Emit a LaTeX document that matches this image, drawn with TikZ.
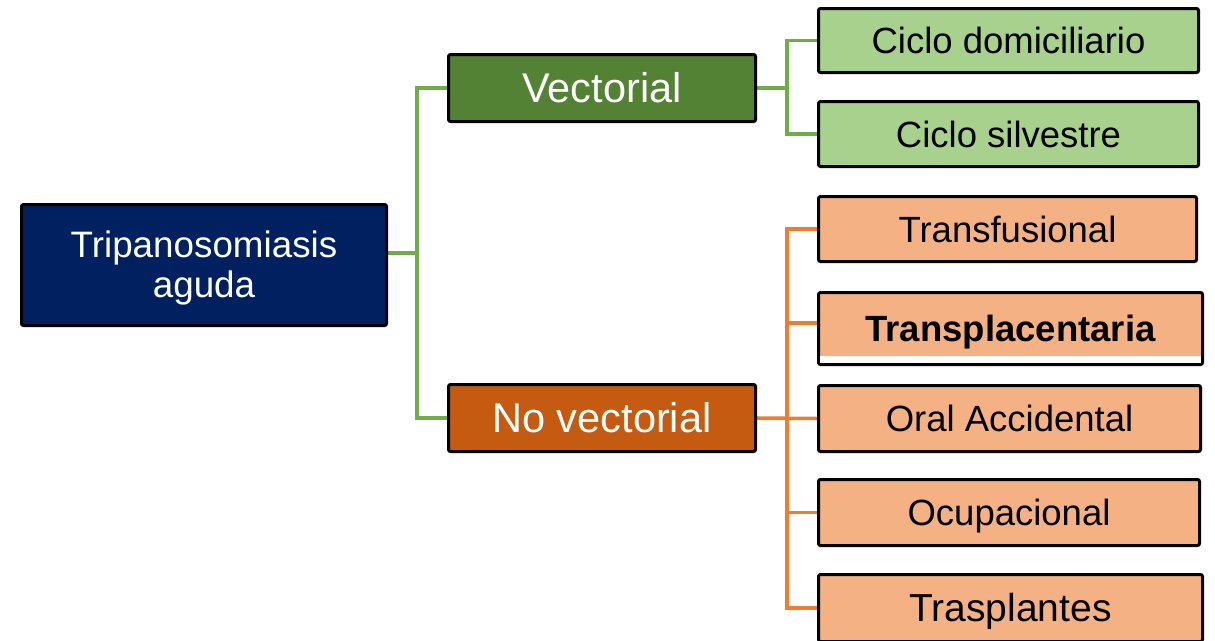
\documentclass[tikz,border=0pt]{standalone}
\usepackage{fontspec}
\setmainfont{Liberation Sans}
\usetikzlibrary{backgrounds}
\definecolor{navy}{HTML}{002060}
\definecolor{dgreen}{HTML}{548235}
\definecolor{dorange}{HTML}{C55A11}
\definecolor{lgreen}{HTML}{A9D18E}
\definecolor{lorange}{HTML}{F4B183}
\definecolor{gline}{HTML}{70AD47}
\definecolor{oline}{HTML}{ED7D31}
\tikzset{
  box/.style={draw=black, line width=3pt, rounded corners=2pt, inner sep=0pt, align=center},
  rootbox/.style={box, fill=navy, text=white, font=\fontsize{36.8}{40}\selectfont},
  midgreen/.style={box, fill=dgreen, text=white, font=\fontsize{41.5}{45}\selectfont, text height=29.7pt, text depth=0pt},
  midorange/.style={box, fill=dorange, text=white, font=\fontsize{41.5}{45}\selectfont, text height=29.7pt, text depth=0pt},
  leafgreen/.style={box, fill=lgreen, text=black, font=\fontsize{36.5}{40}\selectfont, text height=26.1pt, text depth=0pt},
  leaforange/.style={box, fill=lorange, text=black, font=\fontsize{36.5}{40}\selectfont, text height=26.1pt, text depth=0pt},
  gconn/.style={draw=gline, line width=3.5pt},
  oconn/.style={draw=oline, line width=3.5pt}
}
\begin{document}
\begin{tikzpicture}[x=1pt,y=-1pt]
\useasboundingbox (0,0) rectangle (1215,640);
\clip (0,0) rectangle (1215,640);
% nodes
\node[rootbox, minimum width=365pt, minimum height=121pt] (root) at (204,265) {\rule{0pt}{32pt}Tripanosomiasis\\aguda};
\node[midgreen, minimum width=307pt, minimum height=67pt] (vec) at (602,88) {Vectorial};
\node[midorange, minimum width=307pt, minimum height=67pt] (nov) at (602,418) {No vectorial};
\node[leafgreen, minimum width=380pt, minimum height=64pt] (cd) at (1008.5,40.5) {Ciclo domiciliario};
\node[leafgreen, minimum width=380pt, minimum height=65pt] (cs) at (1008.5,134) {Ciclo silvestre};
\node[leaforange, minimum width=378pt, minimum height=65pt] (tf) at (1007.5,229) {Transfusional};
\node[leaforange, minimum width=384pt, minimum height=72pt] (tp) at (1010.5,328.5) {\bfseries Transplacentaria};
\fill[white] ([xshift=3pt,yshift=3pt]tp.south west) rectangle ([xshift=-3pt,yshift=10.5pt]tp.south east);
\node[leaforange, minimum width=382pt, minimum height=66pt] (oa) at (1009.5,418.5) {Oral Accidental};
\node[leaforange, minimum width=381pt, minimum height=66pt] (oc) at (1009,512.5) {Ocupacional};
\node[leaforange, minimum width=384pt, minimum height=67pt, font=\fontsize{39}{42}\selectfont, text height=27.9pt] (ts) at (1010.5,608) {Trasplantes};
% connectors
\coordinate (rj) at (417,253);
\coordinate (vj) at (787,88);
\coordinate (oj) at (787,418);
\coordinate (tpj) at ([yshift=5.5pt]tp.west);
\begin{scope}[on background layer]
\draw[gconn] (rj) -- (root.east |- rj);
\draw[gconn] (vec.west) -| (rj |- nov.west) -- (nov.west);
\draw[gconn] (vec.east) -- (vj);
\draw[gconn] (cd.west) -| (vj) |- (cs.west);
\draw[oconn] (nov.east) -- (oa.west);
\draw[oconn] (tf.west) -| (oj |- ts.west) -- (ts.west);
\draw[oconn] (tpj) -- (oj |- tpj);
\draw[oconn] (oc.west) -- (oj |- oc.west);
\end{scope}
\end{tikzpicture}
\end{document}
